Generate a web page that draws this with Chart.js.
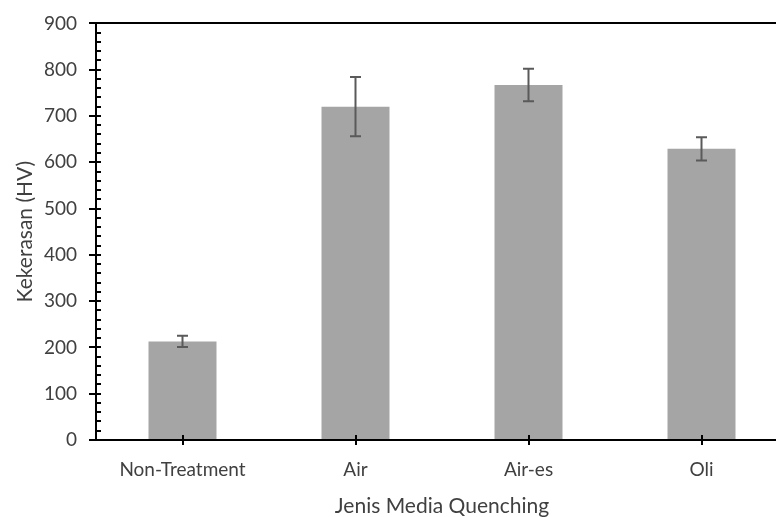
<!DOCTYPE html>
<html>
<head>
<meta charset="utf-8">
<script src="https://cdn.jsdelivr.net/npm/chart.js@4"></script>
<style>
  html, body { margin: 0; padding: 0; background: #fff; overflow: hidden; }
  #wrap { width: 800px; height: 517px; position: relative; }
</style>
</head>
<body>
<div id="wrap"><canvas id="chart"></canvas></div>
<script>
// data
const categories = ['Non-Treatment', 'Air', 'Air-es', 'Oli'];
const hardness = [213, 720, 767, 629];
const errors = [12, 64, 35, 25];
const yTicks = [0, 100, 200, 300, 400, 500, 600, 700, 800, 900];

const barColor = '#a5a5a5';
const textColor = '#404040';
const font = 'Lato, "Open Sans", sans-serif';

// error bars drawn through the y scale
const errorBars = {
    id: 'errorBars',
    afterDatasetsDraw(chart) {
        const ctx = chart.ctx;
        const y = chart.scales.y;
        const meta = chart.getDatasetMeta(0);
        ctx.save();
        ctx.strokeStyle = '#5a5a5a';
        ctx.lineWidth = 2;
        meta.data.forEach(function(bar, i) {
            const top = y.getPixelForValue(hardness[i] + errors[i]);
            const bot = y.getPixelForValue(hardness[i] - errors[i]);
            ctx.beginPath();
            ctx.moveTo(bar.x, top); ctx.lineTo(bar.x, bot);
            ctx.moveTo(bar.x - 5.5, top); ctx.lineTo(bar.x + 5.5, top);
            ctx.moveTo(bar.x - 5.5, bot); ctx.lineTo(bar.x + 5.5, bot);
            ctx.stroke();
        });
        ctx.restore();
    }
};

// inside tick marks (minor on y every 20, and x category ticks)
const innerTicks = {
    id: 'innerTicks',
    afterDraw(chart) {
        const ctx = chart.ctx;
        const y = chart.scales.y;
        const x = chart.scales.x;
        const area = chart.chartArea;
        ctx.save();
        ctx.strokeStyle = '#000';
        ctx.lineWidth = 2;
        ctx.beginPath();
        for (let v = 0; v <= 900; v += 20) {
            const py = Math.round(y.getPixelForValue(v));
            ctx.moveTo(area.left, py);
            ctx.lineTo(area.left + 5, py);
        }
        categories.forEach(function(c, i) {
            const px = Math.round(x.getPixelForValue(i));
            ctx.moveTo(px, area.bottom);
            ctx.lineTo(px, area.bottom - 5);
        });
        ctx.stroke();
        ctx.restore();
    }
};

new Chart(document.getElementById('chart'), {
    type: 'bar',
    data: {
        labels: categories,
        datasets: [{
            data: hardness,
            backgroundColor: barColor,
            borderWidth: 0,
            barPercentage: 0.393,
            categoryPercentage: 1
        }]
    },
    options: {
        responsive: true,
        maintainAspectRatio: false,
        animation: false,
        layout: { padding: { left: 0, right: 12, top: 21, bottom: 0 } },
        plugins: {
            legend: { display: false },
            tooltip: { enabled: false }
        },
        scales: {
            x: {
                grid: {
                    offset: false,
                    drawOnChartArea: false,
                    tickLength: 5,
                    tickColor: '#000',
                    lineWidth: 2
                },
                border: { color: '#000', width: 2 },
                ticks: {
                    color: textColor,
                    font: { family: font, size: 19 },
                    padding: 13,
                    maxRotation: 0
                },
                title: {
                    display: true,
                    text: 'Jenis Media Quenching',
                    color: textColor,
                    font: { family: font, size: 21, lineHeight: 1 },
                    padding: { top: 0, bottom: 0 }
                },
                afterFit(scale) { scale.height = 77; }
            },
            y: {
                min: 0,
                max: 900,
                afterBuildTicks(scale) {
                    scale.ticks = yTicks.map(function(v) { return { value: v }; });
                },
                grid: {
                    color: function(c) { return c.tick && c.tick.value === 900 ? '#000' : 'rgba(0,0,0,0)'; },
                    tickColor: '#000',
                    tickLength: 7,
                    lineWidth: 2
                },
                border: { color: '#000', width: 2 },
                ticks: {
                    color: textColor,
                    font: { family: font, size: 19 },
                    padding: 12
                },
                title: {
                    display: true,
                    text: 'Kekerasan (HV)',
                    color: textColor,
                    font: { family: font, size: 21, lineHeight: 1 },
                    padding: { top: 14.5, bottom: 0 }
                },
                afterFit(scale) { scale.width = 96; }
            }
        }
    },
    plugins: [errorBars, innerTicks]
});
</script>
</body>
</html>
